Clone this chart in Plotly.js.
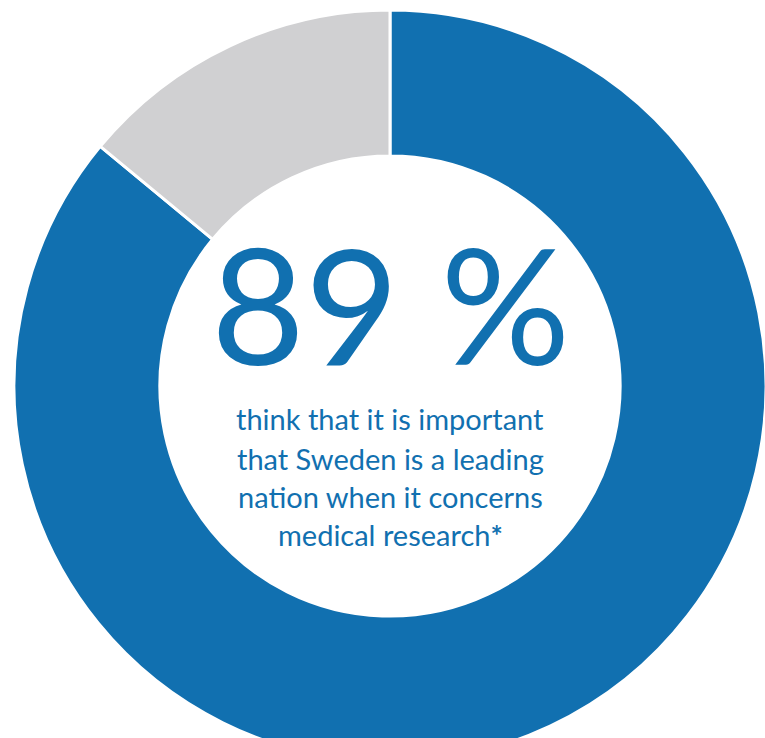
<!DOCTYPE html>
<html>
<head>
<meta charset="utf-8">
<script src="https://cdn.plot.ly/plotly-3.0.1.min.js"></script>
<style>
html,body{margin:0;padding:0;overflow:hidden;background:#fff;}
#chart{width:780px;height:772px;}
</style>
</head>
<body>
<div id="chart"></div>
<script>
const labels = ["Important", "Other"];
const values = [86, 14];
const colors = ["#1170B0", "#D0D0D2"];
const headline = "89 %";
const captionLines = [
  "think that it is important",
  "that Sweden is a leading",
  "nation when it concerns",
  "medical research<b>*</b>"
];

const W = 780, H = 772;
const cx = 390, cy = 386, R = 376;
const px = x => x / W;
const py = y => 1 - y / H;

const annotations = [{
  text: headline, xref: "paper", yref: "paper",
  x: px(cx), y: py(302), xanchor: "center", yanchor: "middle",
  showarrow: false,
  font: {family: "Lato", size: 162, color: "#1170B0", weight: 400}
}];
const lineY = [418, 458, 497, 534];
captionLines.forEach((t, i) => {
  annotations.push({
    text: t, xref: "paper", yref: "paper",
    x: px(cx), y: py(lineY[i]), xanchor: "center", yanchor: "middle",
    showarrow: false,
    font: {family: "Lato", size: 29, color: "#1170B0"}
  });
});

Plotly.newPlot("chart", [{
  type: "pie",
  labels: labels,
  values: values,
  hole: 0.612,
  sort: false,
  direction: "clockwise",
  rotation: 0,
  textinfo: "none",
  hoverinfo: "none",
  marker: {colors: colors, line: {color: "#FFFFFF", width: 3}},
  domain: {x: [(cx - R) / W, (cx + R) / W], y: [(H - cy - R) / H, (H - cy + R) / H]}
}], {
  width: W, height: H,
  margin: {l: 0, r: 0, t: 0, b: 0},
  showlegend: false,
  paper_bgcolor: "#FFFFFF",
  annotations: annotations
}, {staticPlot: true, displayModeBar: false});
</script>
</body>
</html>
